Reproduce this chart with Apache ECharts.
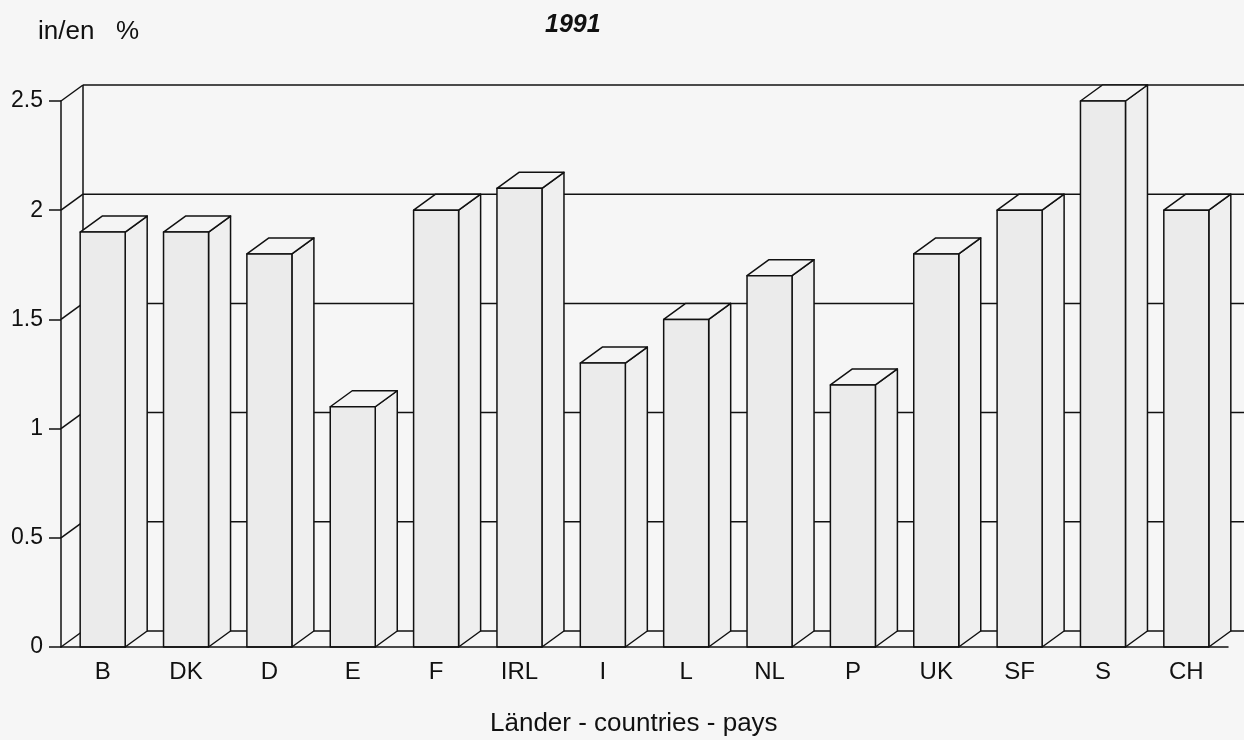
<!DOCTYPE html>
<html>
<head>
<meta charset="utf-8">
<script src="https://cdn.jsdelivr.net/npm/echarts@6/dist/echarts.min.js"></script>
<style>
  html, body { margin: 0; padding: 0; background: #f6f6f6; }
  #chart { width: 1244px; height: 740px; }
</style>
</head>
<body>
<div id="chart"></div>
<script>
// Länder und Werte 1991
const countries = ["B", "DK", "D", "E", "F", "IRL", "I", "L", "NL", "P", "UK", "SF", "S", "CH"];
const values = [1.9, 1.9, 1.8, 1.1, 2.0, 2.1, 1.3, 1.5, 1.7, 1.2, 1.8, 2.0, 2.5, 2.0];
const yTicks = [0, 0.5, 1, 1.5, 2, 2.5];

// 3D-Tiefe (Pixel)
const DX = 22, DY = -16;
const FONT = '"Liberation Sans", Arial, sans-serif';

let myChart = echarts.init(document.getElementById("chart"));

function renderWall(params, api) {
  const cs = params.coordSys;
  const v = yTicks[params.dataIndex];
  const y = api.coord([0, v])[1];
  const x0 = cs.x, x1 = cs.x + cs.width + 40;
  const children = [
    { type: "line", shape: { x1: x0, y1: y, x2: x0 + DX, y2: y + DY } },
    { type: "line", shape: { x1: x0 + DX, y1: y + DY, x2: x1, y2: y + DY } }
  ];
  if (params.dataIndex === 0) {
    children.push({ type: "line", shape: { x1: x0 + DX, y1: cs.y + DY, x2: x0 + DX, y2: cs.y + cs.height + DY } });
  }
  children.forEach(c => c.style = { stroke: "#111", lineWidth: 1.5 });
  return { type: "group", children: children };
}

function renderBar(params, api) {
  const top = api.coord([api.value(0), api.value(1)]);
  const base = api.coord([api.value(0), 0]);
  const bw = api.size([1, 0])[0] * 0.54;
  const l = top[0] - bw / 2, r = top[0] + bw / 2;
  const t = top[1], b = base[1];
  const st = { stroke: "#111", lineWidth: 1.5, lineJoin: "round" };
  return {
    type: "group",
    children: [
      { type: "polygon", shape: { points: [[r, t], [r + DX, t + DY], [r + DX, b + DY], [r, b]] },
        style: Object.assign({ fill: "#efefef" }, st) },
      { type: "polygon", shape: { points: [[l, t], [l + DX, t + DY], [r + DX, t + DY], [r, t]] },
        style: Object.assign({ fill: "#f4f4f4" }, st) },
      { type: "rect", shape: { x: l, y: t, width: bw, height: b - t },
        style: Object.assign({ fill: "#ebebeb" }, st) }
    ]
  };
}

myChart.setOption({
  backgroundColor: "#f6f6f6",
  animation: false,
  title: {
    text: "1991",
    left: 540,
    top: 8,
    textStyle: { fontFamily: FONT, fontSize: 25, fontWeight: "bold", fontStyle: "italic", color: "#111" }
  },
  graphic: [
    { type: "text", left: 38, top: 19, style: { text: "in/en   %", font: "26px " + FONT, fill: "#111" } },
    { type: "text", left: 490, top: 711, style: { text: "Länder - countries - pays", font: "26px " + FONT, fill: "#111" } }
  ],
  grid: { left: 61, right: 16, top: 101, bottom: 93 },
  xAxis: {
    type: "category",
    data: countries,
    axisLine: { lineStyle: { color: "#111", width: 1.5 } },
    axisTick: { length: 9, lineStyle: { color: "#111", width: 1.5 } },
    axisLabel: { margin: 13, fontFamily: FONT, fontSize: 24, color: "#111" },
    z: 10
  },
  yAxis: {
    type: "value",
    min: 0,
    max: 2.5,
    interval: 0.5,
    axisLine: { show: true, lineStyle: { color: "#111", width: 1.5 } },
    axisTick: { show: true, length: 12, lineStyle: { color: "#111", width: 1.5 } },
    axisLabel: { margin: 18, fontFamily: FONT, fontSize: 23, color: "#111" },
    splitLine: { show: false }
  },
  series: [
    {
      type: "custom",
      renderItem: renderWall,
      data: yTicks.map(v => [0, v]),
      clip: false,
      silent: true,
      z: 1
    },
    {
      type: "custom",
      renderItem: renderBar,
      data: values.map((v, i) => [i, v]),
      clip: false,
      z: 2
    }
  ]
});
</script>
</body>
</html>
